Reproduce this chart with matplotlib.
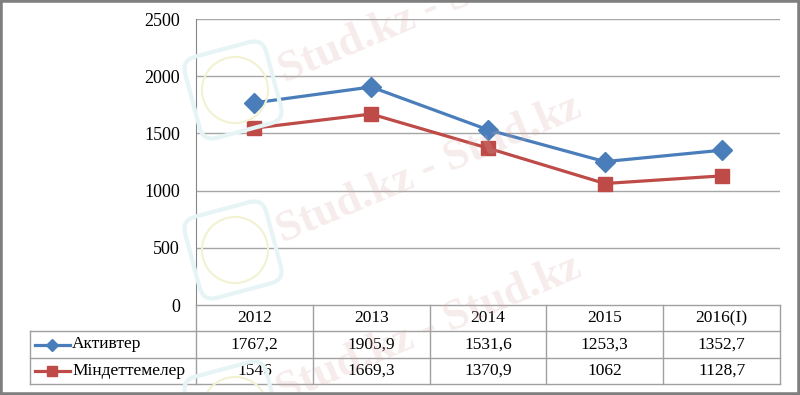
import matplotlib
matplotlib.use("Agg")
import matplotlib.pyplot as plt
from matplotlib.patches import Rectangle, Circle, FancyBboxPatch
import matplotlib.transforms as mtransforms

# data
years = ["2012", "2013", "2014", "2015", "2016(I)"]
assets = [1767.2, 1905.9, 1531.6, 1253.3, 1352.7]
liabilities = [1546, 1669.3, 1370.9, 1062, 1128.7]
series_names = ["Активтер", "Міндеттемелер"]
yticks = [0, 500, 1000, 1500, 2000, 2500]

blue = "#4a7ebb"
red = "#be4b48"
grid_col = "#a6a6a6"
W, H = 800, 395

plt.rcParams["font.family"] = ["Liberation Serif", "DejaVu Serif"]

fig = plt.figure(figsize=(W / 100, H / 100), dpi=100)


def px(x0, y0, x1, y1):
    # pixel box (top-left origin) -> figure fraction rect
    return [x0 / W, 1 - y1 / H, (x1 - x0) / W, (y1 - y0) / H]


# main plot area
ax = fig.add_axes(px(196, 19, 780, 305))
xs = list(range(len(years)))
ax.plot(xs, assets, color=blue, lw=2.3, marker="D", ms=10, zorder=3)
ax.plot(xs, liabilities, color=red, lw=2.3, marker="s", ms=10, zorder=3)
ax.set_xlim(-0.5, len(years) - 0.5)
ax.set_ylim(0, 2500)
ax.set_yticks(yticks)
ax.set_xticks([])
for y in yticks[1:]:
    ax.axhline(y, color=grid_col, lw=1, zorder=1)
for s in ["top", "right", "bottom"]:
    ax.spines[s].set_visible(False)
ax.spines["left"].set_color("#868686")
ax.tick_params(axis="y", length=0, pad=11.5, labelsize=13)

# data table under the plot
lab_left = -0.5 - (196 - 30) / ((780 - 196) / len(years))
tax = fig.add_axes(px(30, 305, 780, 384))
tax.set_xlim(lab_left, len(years) - 0.5)
tax.set_ylim(3, 0)
tax.axis("off")
tcol = "#a0a0a0"
tax.plot([-0.5, len(years) - 0.5], [0, 0], color=tcol, lw=1, clip_on=False)
for r in [1, 2, 3]:
    tax.plot([lab_left, len(years) - 0.5], [r, r], color=tcol, lw=1, clip_on=False)
for c in range(len(years) + 1):
    tax.plot([c - 0.5, c - 0.5], [0, 3], color=tcol, lw=1, clip_on=False)
tax.plot([lab_left, lab_left], [1, 3], color=tcol, lw=1, clip_on=False)

for i, yr in enumerate(years):
    tax.text(i, 0.5, yr, ha="center", va="center", fontsize=12.5)


def fmt(v):
    return ("%g" % v).replace(".", ",")


rows = [(assets, blue, "D", 6), (liabilities, red, "s", 7)]
for r, (vals, col, mk, ms) in enumerate(rows):
    yc = r + 1.5
    for i, v in enumerate(vals):
        tax.text(i, yc, fmt(v), ha="center", va="center", fontsize=12.5)
    k0, k1 = lab_left + 0.045, lab_left + 0.34
    tax.plot([k0, k1], [yc, yc], color=col, lw=2.3, clip_on=False)
    tax.plot([(k0 + k1) / 2], [yc], color=col, marker=mk, ms=ms, clip_on=False)
    tax.text(lab_left + 0.36, yc, series_names[r], ha="left", va="center", fontsize=12.5)

# faint watermark (logo outlines + site name)
for (cx, cy) in [(233, 90), (233, 250), (233, 410)]:
    rot = mtransforms.Affine2D().rotate_deg_around(cx, H - cy, 15)
    box = FancyBboxPatch((cx - 42, H - cy - 42), 84, 84,
                         boxstyle="round,pad=0,rounding_size=14",
                         fill=False, ec="#e6f4f6", lw=3,
                         transform=rot + mtransforms.IdentityTransform(), zorder=0)
    fig.patches.append(box)
    circ = Circle((cx + 2, H - cy), 33, fill=False, ec="#f2f2d2", lw=1.5,
                  transform=mtransforms.IdentityTransform(), zorder=0)
    fig.patches.append(circ)

for (sx, sy) in [(285, 83), (283, 243), (283, 403)]:
    fig.text(sx / W, 1 - sy / H, "Stud.kz - Stud.kz", fontsize=32, fontweight="bold",
             color="#dca8a8", alpha=0.22, rotation=23, rotation_mode="anchor",
             ha="left", va="baseline", zorder=10)

# outer frame
fig.patches.append(Rectangle((0, 0), 1, 1, transform=fig.transFigure, fill=False,
                             ec="#7f7f7f", lw=4, zorder=20))

fig.savefig("out.png", dpi=100)
